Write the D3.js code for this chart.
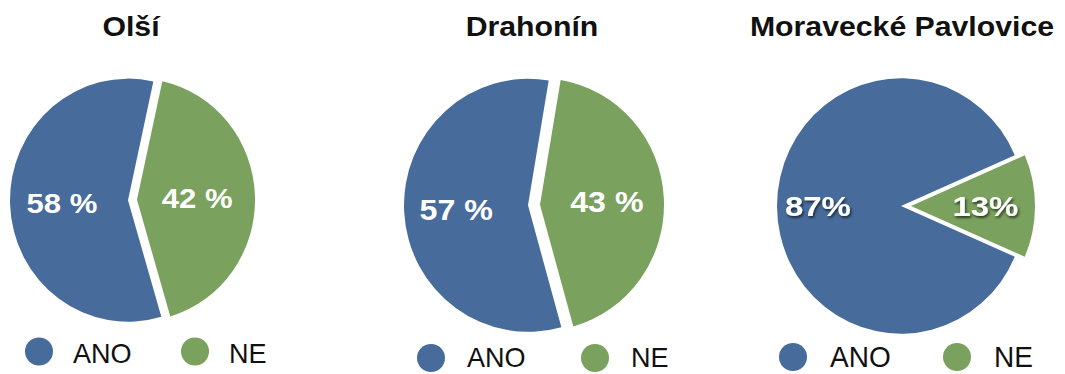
<!DOCTYPE html>
<html>
<head>
<meta charset="utf-8">
<script src="https://cdn.jsdelivr.net/npm/d3@7"></script>
<style>
  html, body { margin: 0; padding: 0; background: #fff; }
  svg { display: block; }
</style>
</head>
<body>
<svg id="chart" width="1065" height="374"></svg>
<script>
// Survey answers per municipality (share of respondents, %)
const places = ["Olší", "Drahonín", "Moravecké Pavlovice"];
const answers = ["ANO", "NE"];
const anoShare = [58, 57, 87];
const neShare = [42, 43, 13];
const percentSep = [" ", " ", ""];

const colour = d3.scaleOrdinal().domain(answers).range(["#476c9b", "#7aa15d"]);
const FONT = "'Liberation Sans', Arial, Helvetica, sans-serif";

// Panel geometry: centre, radius, slight vertical stretch, direction of the NE slice,
// how far each slice is pulled out, and where the legend sits.
const layout = [
  { cx: 132.5, cy: 200, r: 118, sy: 1.03, neMid: 88, explode: [4.5, 4.5], labelR: [0.56, 0.51],
    labelSize: 28, labelSx: 1.11, shadow: false, titleX: 131,
    legend: { x: [39, 195], cy: 351.5, base: 363, size: 28.5, gap: 34 } },
  { cx: 534, cy: 205, r: 124, sy: 1.02, neMid: 87, explode: [6, 6], labelR: [0.58, 0.54],
    labelSize: 29, labelSx: 1.11, shadow: false, titleX: 532,
    legend: { x: [431, 595], cy: 358, base: 366.5, size: 28.5, gap: 36 } },
  { cx: 901, cy: 206, r: 124, sy: 1.03, neMid: 90, explode: [0, 10], labelR: [0.67, 0.6],
    labelSize: 27, labelSx: 1.22, shadow: true, titleX: 902,
    legend: { x: [793, 957], cy: 357, base: 366.5, size: 29.5, gap: 37 } }
];

const svg = d3.select("#chart");
const defs = svg.append("defs");
defs.append("filter").attr("id", "labelShadow")
  .attr("x", "-20%").attr("y", "-30%").attr("width", "140%").attr("height", "160%")
  .append("feDropShadow")
  .attr("dx", 1).attr("dy", 2).attr("stdDeviation", 1.3)
  .attr("flood-color", "#000").attr("flood-opacity", 0.65);

const rad = d => d * Math.PI / 180;

places.forEach((place, i) => {
  const L = layout[i];
  const values = [anoShare[i], neShare[i]];
  const neSpan = values[1] / 100 * 2 * Math.PI;
  const start = rad(L.neMid) + neSpan / 2;

  const pie = d3.pie().sort(null).value(d => d.v)
    .startAngle(start).endAngle(start + 2 * Math.PI);
  const arcs = pie(answers.map((a, k) => ({ key: a, v: values[k] })));
  const arc = d3.arc().innerRadius(0).outerRadius(L.r);

  const panel = svg.append("g");

  // Title
  panel.append("text")
    .attr("transform", `translate(${L.titleX},36) scale(1.08,1)`)
    .attr("text-anchor", "middle")
    .attr("font-family", FONT).attr("font-weight", "bold").attr("font-size", 28)
    .attr("fill", "#111")
    .text(place);

  // Slices
  const pieG = panel.append("g")
    .attr("transform", `translate(${L.cx},${L.cy}) scale(1,${L.sy})`);
  arcs.forEach((a, k) => {
    const mid = (a.startAngle + a.endAngle) / 2;
    const d = L.explode[k];
    pieG.append("path")
      .attr("d", arc(a))
      .attr("transform", `translate(${Math.sin(mid) * d},${-Math.cos(mid) * d})`)
      .attr("fill", colour(a.data.key));
  });

  // Percentage labels
  arcs.forEach((a, k) => {
    const mid = (a.startAngle + a.endAngle) / 2;
    const d = L.explode[k];
    const rr = L.r * L.labelR[k];
    const lArc = d3.arc().innerRadius(rr).outerRadius(rr);
    const c = lArc.centroid(a);
    const x = L.cx + c[0] + Math.sin(mid) * d;
    const y = L.cy + (c[1] - Math.cos(mid) * d) * L.sy + 0.36 * L.labelSize;
    const t = panel.append("text")
      .attr("transform", `translate(${x},${y}) scale(${L.labelSx},1)`)
      .attr("text-anchor", "middle")
      .attr("font-family", FONT).attr("font-weight", "bold").attr("font-size", L.labelSize)
      .attr("fill", "#fff")
      .text(a.data.v + percentSep[i] + "%");
    if (L.shadow) t.attr("filter", "url(#labelShadow)");
  });

  // Legend
  answers.forEach((a, k) => {
    panel.append("circle")
      .attr("cx", L.legend.x[k]).attr("cy", L.legend.cy).attr("r", 14)
      .attr("fill", colour(a));
    panel.append("text")
      .attr("transform", `translate(${L.legend.x[k] + L.legend.gap},${L.legend.base}) scale(0.95,1)`)
      .attr("font-family", FONT).attr("font-size", L.legend.size)
      .attr("fill", "#111")
      .text(a);
  });
});
</script>
</body>
</html>
